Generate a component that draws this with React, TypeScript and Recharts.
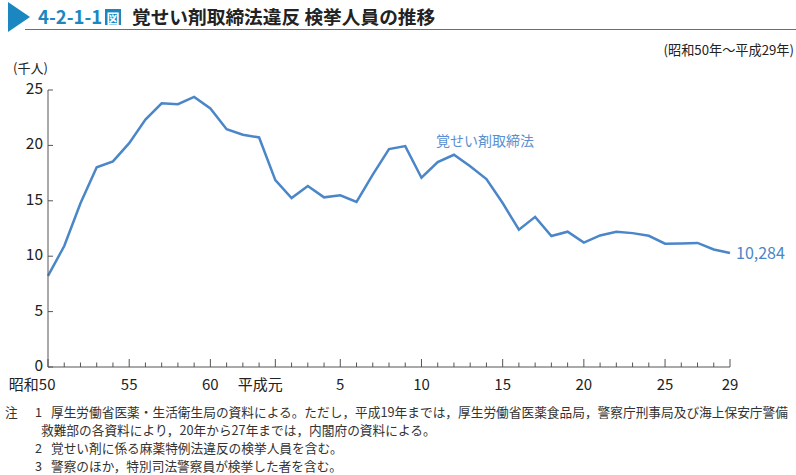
import React from 'react';
import { LineChart, Line, XAxis, YAxis } from 'recharts';

// 昭和50年(1975) 〜 平成29年(2017)
const yearIndex = Array.from({ length: 43 }, (_, i) => i);
const arrests = [
  8.218, 10.919, 14.771, 18.027, 18.553, 20.2, 22.331, 23.797, 23.715, 24.372,
  23.343, 21.46, 20.966, 20.716, 16.866, 15.244, 16.33, 15.311, 15.495, 14.896,
  17.364, 19.666, 19.937, 17.084, 18.491, 19.156, 18.11, 16.964, 14.797, 12.397,
  13.549, 11.821, 12.211, 11.231, 11.873, 12.2, 12.083, 11.842, 11.127, 11.148,
  11.2, 10.607, 10.284,
];
const xLabels: Record<number, string> = {
  0: '昭和50', 5: '55', 10: '60', 14: '平成元', 18: '5', 23: '10', 28: '15', 33: '20', 38: '25', 42: '29',
};
const yTicks = [0, 5, 10, 15, 20, 25];
const seriesName = '覚せい剤取締法';
const lastLabel = '10,284';

const data = yearIndex.map((i) => ({ i, value: arrests[i] }));

const FONT = '"Noto Sans CJK JP", "Noto Sans", sans-serif';
const LINE = '#4a86c8';
const AXIS = '#555';

const XTick = (props: any) => {
  const { x, y, payload } = props;
  const label = xLabels[payload.value];
  const major = label !== undefined;
  const prefixed = payload.value === 0 || payload.value === 14;
  return (
    <g>
      <line x1={x} x2={x} y1={y} y2={y - (major ? 8 : 4.5)} stroke={AXIS} strokeWidth={1} />
      {major && (
        <text
          x={prefixed ? x + 7.5 : x}
          y={y + 23}
          textAnchor={prefixed ? 'end' : 'middle'}
          fontSize={15}
          fill="#222"
          fontFamily={FONT}
        >
          {label}
        </text>
      )}
    </g>
  );
};

const YTick = (props: any) => {
  const { x, y, payload } = props;
  return (
    <g>
      <line x1={x} x2={x + 5} y1={y} y2={y} stroke={AXIS} strokeWidth={1} />
      <text x={x - 5} y={y + 4} textAnchor="end" fontSize={15.5} fill="#222" fontFamily={FONT}>
        {payload.value}
      </text>
    </g>
  );
};

const LastLabel = (props: any) => {
  const { x, y, index } = props;
  if (index !== arrests.length - 1) return null;
  return (
    <text x={x + 6} y={y + 6} fontSize={16} fill={LINE} fontFamily={FONT}>
      {lastLabel}
    </text>
  );
};

export default function App() {
  return (
    <div style={{ position: 'absolute', left: 0, top: 0, width: 796, height: 475, background: '#fff', fontFamily: FONT }}>
      {/* title bar */}
      <svg width={796} height={60} style={{ position: 'absolute', left: 0, top: 0 }}>
        <polygon points="8,2 30,17 8,32" fill="#1a87c0" />
        <line x1={25} x2={796} y1={29.5} y2={29.5} stroke="#1a87c0" strokeWidth={1.2} />
        <text x={38} y={24} fontSize={18.5} fontWeight={700} fill="#1a87c0" fontFamily={FONT}>
          4-2-1-1
        </text>
        <rect x={105} y={9} width={16} height={16} fill="#1a87c0" />
        <text x={113} y={22.5} fontSize={13} fontWeight={700} fill="#fff" textAnchor="middle" fontFamily={FONT}>
          図
        </text>
        <text x={132} y={24} fontSize={18.7} fontWeight={700} fill="#222" fontFamily={FONT}>
          覚せい剤取締法違反 検挙人員の推移
        </text>
        <text x={794} y={54.5} fontSize={13.2} fill="#222" textAnchor="end" fontFamily={FONT}>
          (昭和50年～平成29年)
        </text>
      </svg>

      <div style={{ position: 'absolute', left: 13, top: 60, fontSize: 13, lineHeight: '15px', color: '#222' }}>(千人)</div>

      <div style={{ position: 'absolute', left: 0, top: 0 }}>
        <LineChart width={796} height={475} data={data} margin={{ top: 90, right: 66, bottom: 78, left: 8 }}>
          <XAxis
            dataKey="i"
            type="number"
            domain={[0, 42]}
            ticks={yearIndex}
            interval={0}
            height={30}
            tickSize={0}
            tickMargin={0}
            tick={<XTick />}
            axisLine={{ stroke: AXIS, strokeWidth: 1 }}
          />
          <YAxis
            type="number"
            domain={[0, 25]}
            ticks={yTicks}
            interval={0}
            width={40}
            tickSize={0}
            tickMargin={0}
            tick={<YTick />}
            axisLine={{ stroke: AXIS, strokeWidth: 1 }}
          />
          <Line
            type="linear"
            dataKey="value"
            stroke={LINE}
            strokeWidth={2.5}
            dot={false}
            isAnimationActive={false}
            label={<LastLabel />}
          />
        </LineChart>
      </div>

      <div style={{ position: 'absolute', left: 436, top: 130, fontSize: 14, color: '#5b8fd0' }}>{seriesName}</div>

      <div style={{ position: 'absolute', left: 5, top: 403, fontSize: 12.7, color: '#333', lineHeight: '18px', whiteSpace: 'nowrap' }}>
        <div style={{ display: 'flex' }}>
          <span style={{ width: 30 }}>注</span>
          <span style={{ width: 16 }}>1</span>
          <span>厚生労働省医薬・生活衛生局の資料による。ただし，平成19年までは，厚生労働省医薬食品局，警察庁刑事局及び海上保安庁警備</span>
        </div>
        <div style={{ paddingLeft: 36 }}>救難部の各資料により，20年から27年までは，内閣府の資料による。</div>
        <div style={{ display: 'flex', paddingLeft: 30 }}>
          <span style={{ width: 16 }}>2</span>
          <span>覚せい剤に係る麻薬特例法違反の検挙人員を含む。</span>
        </div>
        <div style={{ display: 'flex', paddingLeft: 30 }}>
          <span style={{ width: 16 }}>3</span>
          <span>警察のほか，特別司法警察員が検挙した者を含む。</span>
        </div>
      </div>
    </div>
  );
}
